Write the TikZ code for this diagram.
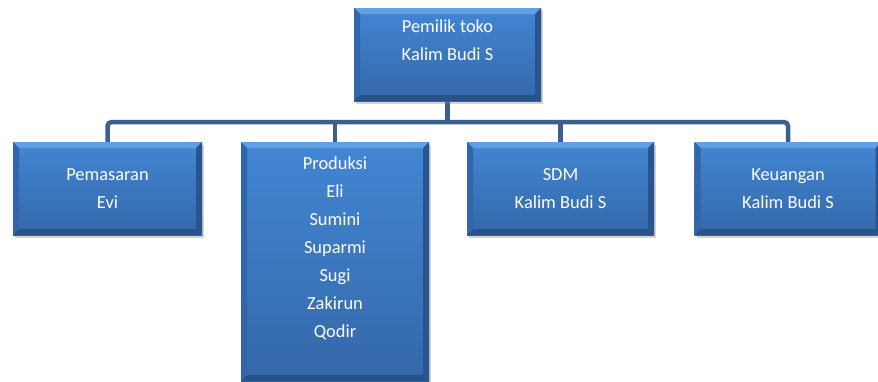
\documentclass[tikz,border=0pt]{standalone}
\usepackage{fontspec}
\setmainfont{Carlito}
\usetikzlibrary{shadows}
\definecolor{OrgBoxTop}{RGB}{66,134,212}
\definecolor{OrgBoxBottom}{RGB}{52,104,168}
\definecolor{OrgBevelLight}{RGB}{98,158,226}
\definecolor{OrgBevelDark}{RGB}{40,82,138}
\definecolor{OrgBevelSide}{RGB}{50,102,170}
\definecolor{OrgLink}{RGB}{59,96,143}
\begin{document}
\begin{tikzpicture}[x=1pt,y=-1pt,
orgbox/.style n args={2}{rectangle,minimum width=#1pt,minimum height=#2pt,inner sep=0pt,
   top color=OrgBoxTop,bottom color=OrgBoxBottom,text=white,align=center,
   font=\fontsize{18.4}{28}\selectfont,
   drop shadow={opacity=0.35,shadow xshift=2pt,shadow yshift=-3pt},
   path picture={
   \fill[OrgBevelLight] (path picture bounding box.north west) -- (path picture bounding box.north east)
      -- ([xshift=-6pt,yshift=-6pt]path picture bounding box.north east) -- ([xshift=6pt,yshift=-6pt]path picture bounding box.north west) -- cycle;
   \fill[OrgBevelDark] (path picture bounding box.south west) -- (path picture bounding box.south east)
      -- ([xshift=-6pt,yshift=6pt]path picture bounding box.south east) -- ([xshift=6pt,yshift=6pt]path picture bounding box.south west) -- cycle;
   \fill[OrgBevelSide] (path picture bounding box.north west) -- (path picture bounding box.south west)
      -- ([xshift=6pt,yshift=6pt]path picture bounding box.south west) -- ([xshift=6pt,yshift=-6pt]path picture bounding box.north west) -- cycle;
   \fill[OrgBevelDark!90!OrgBevelSide] (path picture bounding box.north east) -- (path picture bounding box.south east)
      -- ([xshift=-6pt,yshift=6pt]path picture bounding box.south east) -- ([xshift=-6pt,yshift=-6pt]path picture bounding box.north east) -- cycle;
   }},
link/.style={OrgLink,line width=4.5pt,rounded corners=4pt}]
\useasboundingbox (0,0) rectangle (878,381);
\coordinate (bus) at (447.5,122);
\draw[link] (107.5,142) |- (bus) -| (788,142);
\draw[link] (447.5,101) -- (bus);
\draw[link] (335,142) -- (335,122);
\draw[link] (560.5,142) -- (560.5,122);
\node[orgbox={187}{93}] (pemilik) at (447.5,54.5) {Pemilik toko\\Kalim Budi S\\\mbox{}};
\node[orgbox={189}{93}] (pemasaran) at (107.5,188.5) {Pemasaran\\Evi};
\node[orgbox={188}{239}] (produksi) at (335,261.5) {Produksi\\Eli\\Sumini\\Suparmi\\Sugi\\Zakirun\\Qodir\\\mbox{}};
\node[orgbox={187}{93}] (sdm) at (560.5,188.5) {SDM\\Kalim Budi S};
\node[orgbox={187}{93}] (keuangan) at (788,188.5) {Keuangan\\Kalim Budi S};
\end{tikzpicture}
\end{document}
